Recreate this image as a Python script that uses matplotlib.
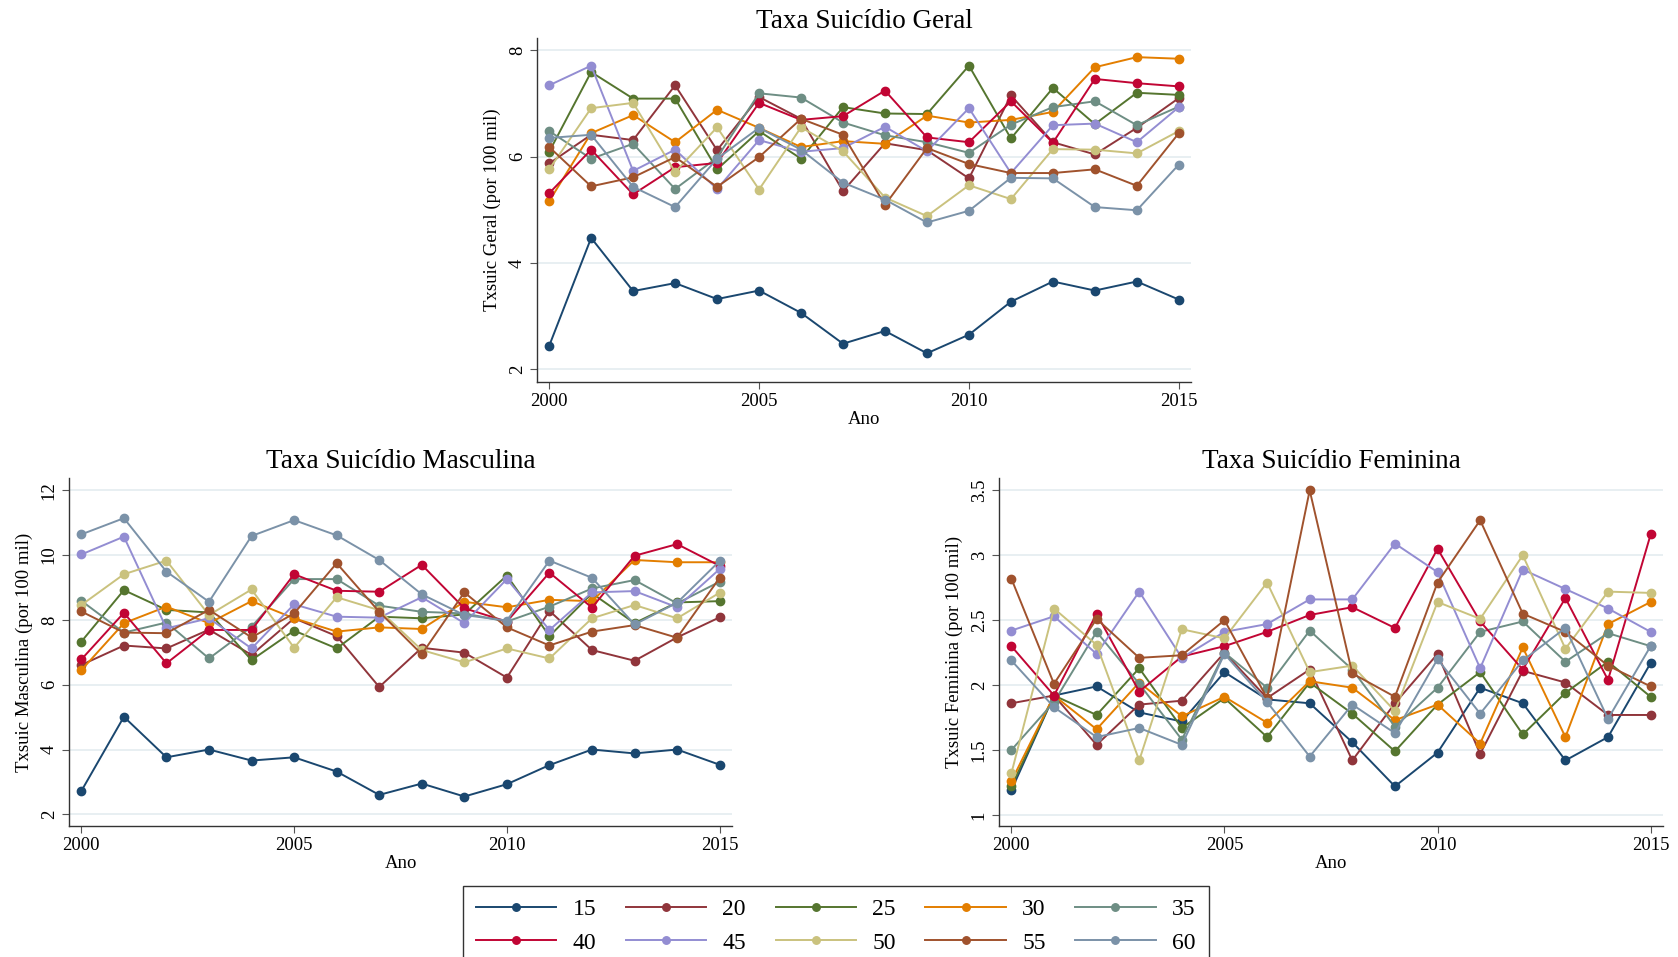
import matplotlib
matplotlib.use("Agg")
import matplotlib.pyplot as plt

plt.rcParams["font.family"] = ["Liberation Serif", "DejaVu Serif"]

years = list(range(2000, 2016))
ages = ["15", "20", "25", "30", "35", "40", "45", "50", "55", "60"]
colors = ["#1a476f", "#90353b", "#55752f", "#e37e00", "#6e8e84",
          "#c10534", "#938dd2", "#cac27e", "#a0522d", "#7b92a8"]

# Taxa geral
geral_15 = [2.44, 4.47, 3.47, 3.62, 3.32, 3.48, 3.06, 2.48, 2.72, 2.30, 2.65, 3.27, 3.65, 3.48, 3.65, 3.31]
geral_20 = [5.87, 6.41, 6.31, 7.34, 6.12, 7.12, 6.71, 5.35, 6.25, 6.12, 5.59, 7.15, 6.27, 6.04, 6.54, 7.10]
geral_25 = [6.09, 7.59, 7.09, 7.09, 5.76, 6.48, 5.96, 6.93, 6.81, 6.80, 7.71, 6.34, 7.29, 6.61, 7.20, 7.16]
geral_30 = [5.16, 6.44, 6.78, 6.27, 6.88, 6.54, 6.18, 6.29, 6.24, 6.77, 6.64, 6.69, 6.84, 7.68, 7.87, 7.84]
geral_35 = [6.48, 5.96, 6.24, 5.39, 5.98, 7.19, 7.11, 6.64, 6.40, 6.27, 6.07, 6.60, 6.93, 7.04, 6.59, 6.94]
geral_40 = [5.31, 6.13, 5.29, 5.80, 5.88, 7.01, 6.69, 6.76, 7.24, 6.36, 6.27, 7.04, 6.26, 7.46, 7.38, 7.32]
geral_45 = [7.34, 7.71, 5.73, 6.13, 5.39, 6.31, 6.09, 6.16, 6.56, 6.10, 6.91, 5.69, 6.59, 6.62, 6.27, 6.93]
geral_50 = [5.76, 6.91, 7.01, 5.71, 6.55, 5.38, 6.55, 6.10, 5.23, 4.88, 5.46, 5.20, 6.14, 6.13, 6.06, 6.48]
geral_55 = [6.18, 5.44, 5.61, 5.99, 5.43, 5.99, 6.71, 6.41, 5.09, 6.16, 5.86, 5.69, 5.69, 5.76, 5.45, 6.44]
geral_60 = [6.35, 6.41, 5.43, 5.05, 5.96, 6.54, 6.13, 5.51, 5.19, 4.76, 4.98, 5.60, 5.59, 5.05, 4.99, 5.85]

# Taxa masculina
masc_15 = [2.72, 5.01, 3.76, 4.00, 3.66, 3.76, 3.32, 2.60, 2.95, 2.55, 2.93, 3.52, 4.00, 3.88, 4.00, 3.53]
masc_20 = [6.61, 7.21, 7.12, 7.70, 6.92, 8.05, 7.50, 5.93, 7.14, 6.99, 6.22, 8.28, 7.07, 6.74, 7.46, 8.08]
masc_25 = [7.33, 8.92, 8.31, 8.23, 6.76, 7.67, 7.12, 8.10, 8.05, 8.17, 9.37, 7.50, 8.82, 7.90, 8.54, 8.58]
masc_30 = [6.45, 7.90, 8.41, 7.90, 8.58, 8.05, 7.64, 7.77, 7.72, 8.56, 8.39, 8.62, 8.58, 9.85, 9.78, 9.78]
masc_35 = [8.59, 7.61, 7.92, 6.81, 7.79, 9.26, 9.26, 8.44, 8.25, 8.20, 7.95, 8.41, 8.97, 9.23, 8.51, 9.18]
masc_40 = [6.78, 8.22, 6.66, 7.69, 7.69, 9.41, 8.90, 8.87, 9.70, 8.36, 7.95, 9.46, 8.38, 9.98, 10.34, 9.67]
masc_45 = [10.02, 10.57, 7.74, 8.05, 7.12, 8.48, 8.10, 8.07, 8.70, 7.90, 9.26, 7.69, 8.85, 8.89, 8.39, 9.57]
masc_50 = [8.46, 9.41, 9.83, 8.15, 8.94, 7.14, 8.70, 8.30, 7.07, 6.69, 7.12, 6.81, 8.05, 8.46, 8.05, 8.84]
masc_55 = [8.26, 7.61, 7.59, 8.31, 7.46, 8.20, 9.75, 8.25, 6.94, 8.85, 7.77, 7.21, 7.64, 7.84, 7.45, 9.30]
masc_60 = [10.64, 11.14, 9.49, 8.56, 10.59, 11.08, 10.61, 9.85, 8.79, 8.15, 7.98, 9.83, 9.30, 7.86, 8.53, 9.82]

# Taxa feminina
fem_15 = [1.19, 1.92, 1.99, 1.79, 1.72, 2.10, 1.89, 1.86, 1.56, 1.22, 1.48, 1.98, 1.86, 1.42, 1.60, 2.17]
fem_20 = [1.86, 1.92, 1.54, 1.85, 1.88, 2.25, 1.90, 2.12, 1.42, 1.86, 2.24, 1.47, 2.11, 2.02, 1.77, 1.77]
fem_25 = [1.22, 1.92, 1.77, 2.13, 1.67, 1.90, 1.60, 2.02, 1.78, 1.49, 1.85, 2.10, 1.62, 1.94, 2.18, 1.91]
fem_30 = [1.26, 1.92, 1.66, 2.02, 1.76, 1.91, 1.71, 2.03, 1.98, 1.73, 1.85, 1.55, 2.29, 1.60, 2.47, 2.64]
fem_35 = [1.50, 1.87, 2.41, 2.01, 1.58, 2.25, 1.98, 2.42, 2.12, 1.68, 1.98, 2.41, 2.49, 2.18, 2.40, 2.30]
fem_40 = [2.30, 1.92, 2.55, 1.95, 2.22, 2.30, 2.41, 2.54, 2.60, 2.44, 3.05, 2.49, 2.12, 2.67, 2.04, 3.16]
fem_45 = [2.42, 2.53, 2.24, 2.72, 2.21, 2.41, 2.47, 2.66, 2.66, 3.09, 2.87, 2.13, 2.89, 2.74, 2.59, 2.41]
fem_50 = [1.32, 2.59, 2.31, 1.42, 2.43, 2.36, 2.79, 2.10, 2.15, 1.80, 2.64, 2.51, 3.00, 2.28, 2.72, 2.71]
fem_55 = [2.82, 2.01, 2.51, 2.21, 2.23, 2.50, 1.90, 3.50, 2.09, 1.91, 2.79, 3.27, 2.55, 2.41, 2.15, 1.99]
fem_60 = [2.19, 1.83, 1.60, 1.67, 1.54, 2.24, 1.87, 1.45, 1.85, 1.63, 2.20, 1.78, 2.19, 2.44, 1.74, 2.30]

geral = [geral_15, geral_20, geral_25, geral_30, geral_35, geral_40, geral_45, geral_50, geral_55, geral_60]
masc = [masc_15, masc_20, masc_25, masc_30, masc_35, masc_40, masc_45, masc_50, masc_55, masc_60]
fem = [fem_15, fem_20, fem_25, fem_30, fem_35, fem_40, fem_45, fem_50, fem_55, fem_60]

W, H = 1678, 957
fig = plt.figure(figsize=(W / 100, H / 100), dpi=100)


def make_axes(x0, x1, y0, y1):
    return fig.add_axes([x0 / W, 1 - y1 / H, (x1 - x0) / W, (y1 - y0) / H])


def plot_panel(ax, series, title, ylabel, yticks, ylim, yfmt):
    for vals, age, c in zip(series, ages, colors):
        ax.plot(years, vals, "-o", color=c, lw=1.4, ms=6, label=age)
    ax.set_xlim(1999.71, 2015.29)
    ax.set_ylim(*ylim)
    ax.set_xticks([2000, 2005, 2010, 2015])
    ax.set_yticks(yticks)
    ax.set_yticklabels([yfmt(v) for v in yticks], rotation=90, va="center")
    ax.grid(axis="y", color="#e6eef1", lw=1.3)
    ax.set_axisbelow(True)
    for s in ["top", "right"]:
        ax.spines[s].set_visible(False)
    for s in ["left", "bottom"]:
        ax.spines[s].set_color("#333333")
        ax.spines[s].set_linewidth(1.0)
    ax.tick_params(labelsize=13.5, length=5, color="#555555", pad=3)
    ax.set_title(title, fontsize=19.5, pad=7)
    ax.set_xlabel("Ano", fontsize=13.5, labelpad=1)
    ax.set_ylabel(ylabel, fontsize=13.5, labelpad=6)


ax1 = make_axes(537, 1191, 38, 382)
plot_panel(ax1, geral, "Taxa Suicídio Geral", "Txsuic Geral (por 100 mil)",
           [2, 4, 6, 8], (1.76, 8.23), lambda v: str(v))

ax2 = make_axes(69, 732, 478, 826)
plot_panel(ax2, masc, "Taxa Suicídio Masculina", "Txsuic Masculina (por 100 mil)",
           [2, 4, 6, 8, 10, 12], (1.64, 12.38), lambda v: str(v))

ax3 = make_axes(999, 1663, 478, 826)
plot_panel(ax3, fem, "Taxa Suicídio Feminina", "Txsuic Feminina (por 100 mil)",
           [1, 1.5, 2, 2.5, 3, 3.5], (0.915, 3.595), lambda v: f"{v:g}")

# legend row-wise: 15..35 on top, 40..60 below
handles, labels = ax1.get_legend_handles_labels()
order = [0, 5, 1, 6, 2, 7, 3, 8, 4, 9]
leg = fig.legend([handles[i] for i in order], [labels[i] for i in order],
                 ncol=5, loc="upper center", bbox_to_anchor=(0.498, 1 - 874 / H),
                 fontsize=17, handlelength=3.4, handletextpad=0.7, columnspacing=1.25,
                 labelspacing=0.5, numpoints=1, fancybox=False, frameon=True,
                 borderpad=0.55, markerscale=0.9)
leg.get_frame().set_edgecolor("black")
leg.get_frame().set_linewidth(1.0)

fig.savefig("out.png", dpi=100)
